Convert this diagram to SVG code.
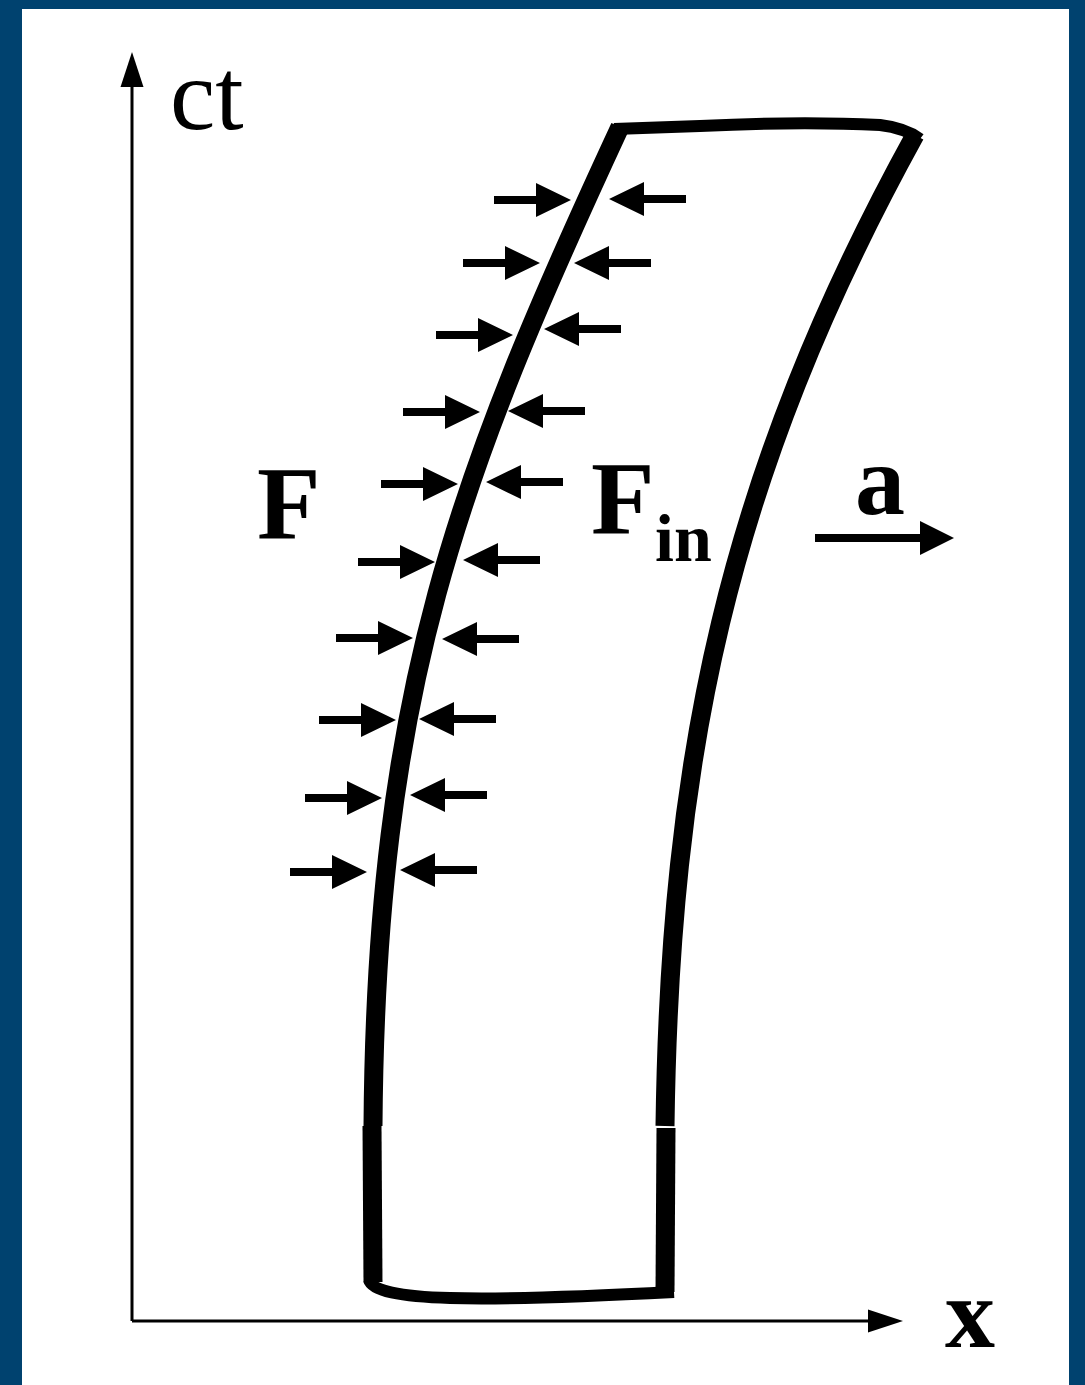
<svg xmlns="http://www.w3.org/2000/svg" width="1085" height="1385" viewBox="0 0 1085 1385">
  <style>
    .edge { fill: none; stroke: #000; stroke-linecap: butt; stroke-linejoin: round; }
    .axis { fill: none; stroke: #000; stroke-width: 3; }
    .lbl { font-family: "Liberation Serif", "Times New Roman", serif; fill: #000; }
    .b { font-weight: bold; }
  </style>
  <defs>
    <path id="farr" d="M -77 -4 L -35 -4 L -35 -17 L 0 0 L -35 17 L -35 4 L -77 4 Z" fill="#000"/>
  </defs>

  <rect x="0" y="0" width="1085" height="1385" fill="#00426f"/>
  <rect x="22" y="9" width="1047" height="1376" fill="#ffffff"/>

  <g id="axes">
    <line class="axis" x1="132" y1="1321" x2="132" y2="84"/>
    <polygon points="132,52 120.5,87 143.5,87" fill="#000"/>
    <line class="axis" x1="132" y1="1321" x2="872" y2="1321"/>
    <polygon points="903,1321 868,1309.5 868,1332.5" fill="#000"/>
  </g>

  <g id="body">
    <path class="edge" stroke-width="19" d="M 620 127 C 458 476 376 690 373 1126"/>
    <path class="edge" stroke-width="19" d="M 915 135 C 725 480 670 760 665 1126"/>
    <path class="edge" stroke-width="12" d="M 614 129 L 700 126 Q 800 121 880 125 Q 905 128 920 139"/>
    <line class="edge" stroke-width="19" x1="372" y1="1126" x2="373" y2="1282"/>
    <line class="edge" stroke-width="19" x1="666" y1="1128" x2="665" y2="1292"/>
    <path class="edge" stroke-width="12" d="M 369 1280 Q 374 1296 450 1298 Q 520 1300 674 1292"/>
  </g>

  <g id="forces">
    <use href="#farr" transform="translate(571,200)"/>
    <use href="#farr" transform="translate(540,263)"/>
    <use href="#farr" transform="translate(513,335)"/>
    <use href="#farr" transform="translate(480,412)"/>
    <use href="#farr" transform="translate(458,484)"/>
    <use href="#farr" transform="translate(435,562)"/>
    <use href="#farr" transform="translate(413,638)"/>
    <use href="#farr" transform="translate(396,720)"/>
    <use href="#farr" transform="translate(382,798)"/>
    <use href="#farr" transform="translate(367,872)"/>

    <use href="#farr" transform="translate(609,199) scale(-1,1)"/>
    <use href="#farr" transform="translate(574,263) scale(-1,1)"/>
    <use href="#farr" transform="translate(544,329) scale(-1,1)"/>
    <use href="#farr" transform="translate(508,411) scale(-1,1)"/>
    <use href="#farr" transform="translate(486,482) scale(-1,1)"/>
    <use href="#farr" transform="translate(463,560) scale(-1,1)"/>
    <use href="#farr" transform="translate(442,639) scale(-1,1)"/>
    <use href="#farr" transform="translate(419,719) scale(-1,1)"/>
    <use href="#farr" transform="translate(410,795) scale(-1,1)"/>
    <use href="#farr" transform="translate(400,870) scale(-1,1)"/>
  </g>

  <g id="accel">
    <line x1="815" y1="538" x2="922" y2="538" stroke="#000" stroke-width="8"/>
    <polygon points="954,538 920,521 920,555" fill="#000"/>
  </g>

  <g id="labels">
    <text class="lbl" x="170" y="129" font-size="102">ct</text>
    <text class="lbl b" x="257" y="538" font-size="104">F</text>
    <text class="lbl b" x="591" y="533" font-size="104">F</text>
    <text class="lbl b" x="655" y="561" font-size="68">in</text>
    <text class="lbl b" x="855" y="514" font-size="100">a</text>
    <text class="lbl b" x="945" y="1347" font-size="100">x</text>
  </g>
</svg>
